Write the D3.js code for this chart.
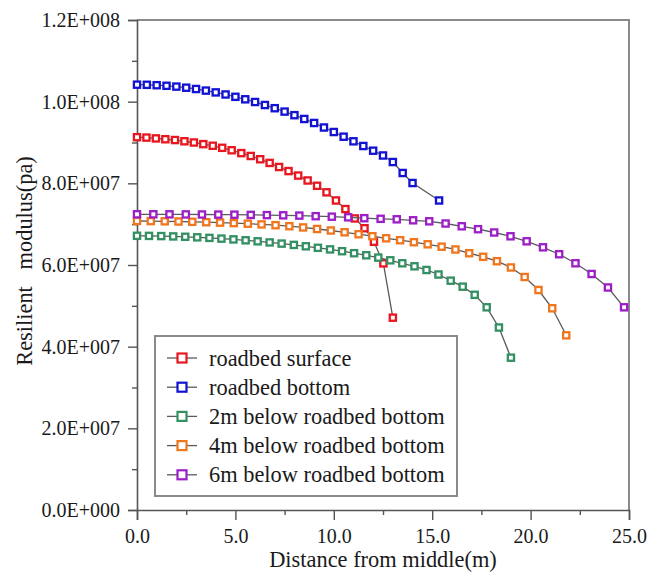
<!DOCTYPE html>
<html>
<head>
<meta charset="utf-8">
<script src="https://cdn.jsdelivr.net/npm/d3@7"></script>
<style>
  html, body { margin: 0; padding: 0; background: #fff; }
  svg { display: block; }
  text { font-family: "Liberation Serif", "Times New Roman", serif; fill: #1a1a1a; }
</style>
</head>
<body>
<div id="chart"></div>
<script>
// ---- data ----
const seriesNames = ["roadbed surface", "roadbed bottom", "2m below roadbed bottom", "4m below roadbed bottom", "6m below roadbed bottom"];
const seriesColors = ["#e8161e", "#1212d4", "#329062", "#f0761e", "#9c1ec6"];

const xRed = [0, 0.48, 0.96, 1.44, 1.93, 2.41, 2.89, 3.37, 3.85, 4.33, 4.81, 5.3, 5.78, 6.26, 6.74, 7.22, 7.7, 8.19, 8.67, 9.15, 9.63, 10.11, 10.59, 11.07, 11.56, 12.04, 12.52, 13.0];
const yRed = [9.13e7, 9.12e7, 9.10e7, 9.08e7, 9.06e7, 9.03e7, 9.00e7, 8.96e7, 8.92e7, 8.87e7, 8.81e7, 8.74e7, 8.67e7, 8.59e7, 8.50e7, 8.40e7, 8.30e7, 8.19e7, 8.07e7, 7.94e7, 7.78e7, 7.58e7, 7.37e7, 7.14e7, 6.90e7, 6.57e7, 6.04e7, 4.71e7];

const xBlue = [0, 0.5, 1, 1.5, 2, 2.5, 3, 3.5, 4, 4.5, 5, 5.5, 6, 6.5, 7, 7.5, 8, 8.5, 9, 9.5, 10, 10.5, 11, 11.5, 12, 12.5, 13, 13.5, 14, 15.35];
const yBlue = [10.416e7, 10.413e7, 10.403e7, 10.389e7, 10.369e7, 10.342e7, 10.310e7, 10.271e7, 10.227e7, 10.176e7, 10.119e7, 10.058e7, 9.992e7, 9.918e7, 9.840e7, 9.757e7, 9.669e7, 9.576e7, 9.478e7, 9.367e7, 9.257e7, 9.142e7, 9.029e7, 8.914e7, 8.799e7, 8.682e7, 8.522e7, 8.253e7, 8.008e7, 7.580e7];

const xGreen = [0, 0.61, 1.23, 1.84, 2.45, 3.06, 3.68, 4.29, 4.9, 5.52, 6.13, 6.74, 7.35, 7.97, 8.58, 9.19, 9.81, 10.42, 11.03, 11.65, 12.26, 12.87, 13.48, 14.1, 14.71, 15.32, 15.94, 16.55, 17.16, 17.77, 18.39, 19.0];
const yGreen = [6.715e7, 6.713e7, 6.708e7, 6.700e7, 6.691e7, 6.678e7, 6.664e7, 6.646e7, 6.627e7, 6.605e7, 6.580e7, 6.553e7, 6.524e7, 6.492e7, 6.458e7, 6.421e7, 6.382e7, 6.338e7, 6.289e7, 6.238e7, 6.181e7, 6.115e7, 6.042e7, 5.968e7, 5.878e7, 5.767e7, 5.616e7, 5.469e7, 5.270e7, 4.964e7, 4.469e7, 3.730e7];

const xOrange = [0, 0.7, 1.41, 2.11, 2.81, 3.52, 4.22, 4.92, 5.63, 6.33, 7.04, 7.74, 8.44, 9.15, 9.85, 10.55, 11.26, 11.96, 12.66, 13.37, 14.07, 14.77, 15.48, 16.18, 16.88, 17.59, 18.29, 19.0, 19.7, 20.4, 21.1, 21.81];
const yOrange = [7.078e7, 7.075e7, 7.070e7, 7.065e7, 7.058e7, 7.048e7, 7.038e7, 7.026e7, 7.011e7, 6.994e7, 6.975e7, 6.950e7, 6.920e7, 6.882e7, 6.845e7, 6.801e7, 6.754e7, 6.705e7, 6.654e7, 6.607e7, 6.558e7, 6.507e7, 6.448e7, 6.380e7, 6.289e7, 6.201e7, 6.093e7, 5.939e7, 5.706e7, 5.388e7, 4.940e7, 4.278e7];

const xPurple = [0, 0.83, 1.65, 2.48, 3.3, 4.13, 4.95, 5.78, 6.6, 7.43, 8.25, 9.08, 9.9, 10.73, 11.55, 12.38, 13.2, 14.03, 14.85, 15.68, 16.5, 17.33, 18.15, 18.98, 19.8, 20.63, 21.45, 22.28, 23.1, 23.93, 24.75];
const yPurple = [7.242e7, 7.242e7, 7.241e7, 7.239e7, 7.237e7, 7.234e7, 7.232e7, 7.227e7, 7.222e7, 7.217e7, 7.210e7, 7.195e7, 7.183e7, 7.168e7, 7.146e7, 7.131e7, 7.119e7, 7.095e7, 7.070e7, 7.016e7, 6.948e7, 6.877e7, 6.796e7, 6.703e7, 6.580e7, 6.433e7, 6.264e7, 6.042e7, 5.780e7, 5.449e7, 4.964e7];

const xTicks = [0, 5, 10, 15, 20, 25];
const xTickLabels = ["0.0", "5.0", "10.0", "15.0", "20.0", "25.0"];
const xMinorTicks = [2.5, 7.5, 12.5, 17.5, 22.5];
const yTicks = [0, 2e7, 4e7, 6e7, 8e7, 1e8, 1.2e8];
const yTickLabels = ["0.0E+000", "2.0E+007", "4.0E+007", "6.0E+007", "8.0E+007", "1.0E+008", "1.2E+008"];
const yMinorTicks = [1e7, 3e7, 5e7, 7e7, 9e7, 1.1e8];
const xTitle = "Distance from middle(m)";
const yTitle = "Resilient   modulus(pa)";

const seriesX = [xRed, xBlue, xGreen, xOrange, xPurple];
const seriesY = [yRed, yBlue, yGreen, yOrange, yPurple];

// ---- layout ----
const W = 666, H = 577;
const plot = { left: 137, right: 629, top: 20, bottom: 510 };

const svg = d3.select("#chart").append("svg").attr("width", W).attr("height", H);

const x = d3.scaleLinear().domain([0, 25]).range([plot.left, plot.right]);
const y = d3.scaleLinear().domain([0, 1.2e8]).range([plot.bottom, plot.top]);

// frame (top & right)
svg.append("path")
  .attr("d", `M${plot.left},${plot.top}H${plot.right}V${plot.bottom}`)
  .attr("fill", "none").attr("stroke", "#8a8a8a").attr("stroke-width", 2);

// axes
const axisColor = "#555";
const yAxis = svg.append("g").attr("transform", `translate(${plot.left},0)`)
  .call(d3.axisLeft(y).tickValues(yTicks).tickSize(9).tickPadding(8)
    .tickFormat((d, i) => yTickLabels[i]));
const yMinor = svg.append("g").attr("transform", `translate(${plot.left},0)`)
  .call(d3.axisLeft(y).tickValues(yMinorTicks).tickSize(5).tickFormat(""));
const xAxis = svg.append("g").attr("transform", `translate(0,${plot.bottom})`)
  .call(d3.axisBottom(x).tickValues(xTicks).tickSize(10).tickPadding(9)
    .tickFormat((d, i) => xTickLabels[i]));
const xMinor = svg.append("g").attr("transform", `translate(0,${plot.bottom})`)
  .call(d3.axisBottom(x).tickValues(xMinorTicks).tickSize(5).tickFormat(""));

[yAxis, yMinor, xAxis, xMinor].forEach(g => {
  g.select(".domain").attr("stroke", axisColor).attr("stroke-width", 1.6);
  g.selectAll(".tick line").attr("stroke", axisColor).attr("stroke-width", 1.4);
  g.selectAll(".tick text").style("font-family", '"Liberation Serif", serif')
    .style("font-size", "20px").attr("fill", "#1a1a1a");
});
yMinor.select(".domain").remove();
xMinor.select(".domain").remove();

// axis titles
svg.append("text")
  .attr("x", (plot.left + plot.right) / 2).attr("y", 567)
  .attr("text-anchor", "middle").style("font-size", "22.4px")
  .text(xTitle);
svg.append("text")
  .attr("transform", `translate(32,${(plot.top + plot.bottom) / 2 - 4}) rotate(-90)`)
  .attr("text-anchor", "middle").style("font-size", "22.4px")
  .style("white-space", "pre")
  .text(yTitle);

// series
const line = d3.line().x(d => x(d[0])).y(d => y(d[1]));
const mk = 6.2;
seriesNames.forEach((name, s) => {
  const pts = seriesX[s].map((xv, i) => [xv, seriesY[s][i]]);
  const g = svg.append("g");
  g.append("path").datum(pts).attr("d", line)
    .attr("fill", "none").attr("stroke", "#5a5a5a").attr("stroke-width", 1.3);
  g.selectAll("rect").data(pts).join("rect")
    .attr("x", d => x(d[0]) - mk / 2).attr("y", d => y(d[1]) - mk / 2)
    .attr("width", mk).attr("height", mk)
    .attr("fill", "#fff").attr("stroke", seriesColors[s]).attr("stroke-width", 2.3);
});

// legend
const lg = svg.append("g");
lg.append("rect").attr("x", 155).attr("y", 336).attr("width", 302).attr("height", 160)
  .attr("fill", "#fff").attr("stroke", "#8a8a8a").attr("stroke-width", 2);
seriesNames.forEach((name, s) => {
  const cy = 358 + s * 29.2;
  lg.append("line").attr("x1", 167).attr("x2", 197).attr("y1", cy).attr("y2", cy)
    .attr("stroke", "#5a5a5a").attr("stroke-width", 1.3);
  lg.append("rect").attr("x", 182 - 4.5).attr("y", cy - 4.5).attr("width", 9).attr("height", 9)
    .attr("fill", "#fff").attr("stroke", seriesColors[s]).attr("stroke-width", 2.2);
  lg.append("text").attr("x", 209).attr("y", cy + 7.5)
    .style("font-size", "22.4px").text(name);
});
</script>
</body>
</html>
